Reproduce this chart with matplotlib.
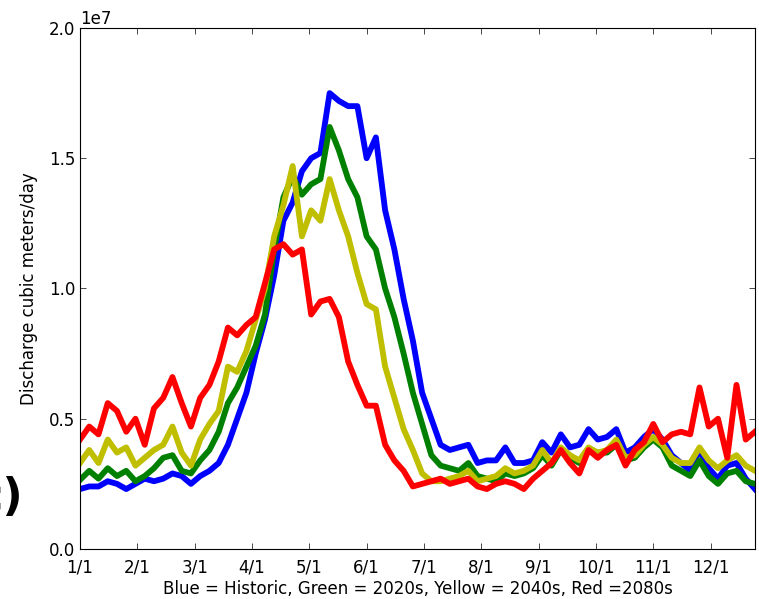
import matplotlib
matplotlib.use("Agg")
import matplotlib.pyplot as plt

# day of year (every 5 days) and discharge in millions of m3/day
days = list(range(0, 366, 5))

historic = [2.3, 2.4, 2.4, 2.6, 2.5, 2.3, 2.5, 2.7, 2.6, 2.7,
            2.9, 2.8, 2.5, 2.8, 3.0, 3.3, 4.0, 5.0, 6.0, 7.5,
            8.8, 10.5, 12.6, 13.3, 14.5, 15.0, 15.2, 17.5, 17.2, 17.0,
            17.0, 15.0, 15.8, 13.0, 11.5, 9.6, 8.0, 6.0, 5.0, 4.0,
            3.8, 3.9, 4.0, 3.3, 3.4, 3.4, 3.9, 3.3, 3.3, 3.4,
            4.1, 3.7, 4.4, 3.9, 4.0, 4.6, 4.2, 4.3, 4.6, 3.7,
            3.9, 4.3, 4.6, 4.2, 3.6, 3.3, 3.0, 3.8, 3.1, 2.7,
            3.2, 3.3, 2.7, 2.3]

green_2020s = [2.65, 3.0, 2.7, 3.1, 2.8, 3.0, 2.6, 2.8, 3.1, 3.5,
               3.6, 3.0, 2.9, 3.4, 3.8, 4.5, 5.6, 6.2, 7.0, 7.8,
               9.0, 11.5, 13.5, 14.3, 13.6, 14.0, 14.2, 16.2, 15.3, 14.2,
               13.5, 12.0, 11.5, 10.0, 8.9, 7.5, 6.0, 4.8, 3.6, 3.2,
               3.1, 3.0, 3.3, 2.8, 2.7, 2.6, 2.9, 2.8, 2.9, 3.1,
               3.6, 3.2, 3.8, 3.5, 3.3, 3.8, 3.7, 3.7, 4.0, 3.4,
               3.5, 3.9, 4.2, 3.9, 3.2, 3.0, 2.8, 3.4, 2.8, 2.5,
               2.9, 3.0, 2.6, 2.5]

yellow_2040s = [3.3, 3.8, 3.3, 4.2, 3.7, 3.9, 3.2, 3.5, 3.8, 4.0,
                4.7, 3.7, 3.2, 4.2, 4.8, 5.3, 7.0, 6.8, 7.6, 8.8,
                10.0, 12.0, 13.2, 14.7, 12.0, 13.0, 12.6, 14.2, 13.0, 12.0,
                10.6, 9.4, 9.2, 7.0, 5.8, 4.6, 3.8, 2.9, 2.6, 2.6,
                2.7, 2.8, 3.0, 2.6, 2.7, 2.8, 3.1, 2.9, 3.0, 3.2,
                3.8, 3.3, 3.9, 3.6, 3.4, 3.9, 3.7, 3.8, 4.2, 3.5,
                3.6, 4.0, 4.3, 4.0, 3.5, 3.3, 3.3, 3.9, 3.4, 3.1,
                3.4, 3.6, 3.2, 3.0]

red_2080s = [4.2, 4.7, 4.4, 5.6, 5.3, 4.5, 5.0, 4.0, 5.4, 5.8,
             6.6, 5.6, 4.7, 5.8, 6.3, 7.2, 8.5, 8.2, 8.6, 8.9,
             10.2, 11.5, 11.7, 11.3, 11.5, 9.0, 9.5, 9.6, 8.9, 7.2,
             6.3, 5.5, 5.5, 4.0, 3.4, 3.0, 2.4, 2.5, 2.6, 2.7,
             2.5, 2.6, 2.7, 2.4, 2.3, 2.5, 2.6, 2.5, 2.3, 2.7,
             3.0, 3.3, 3.8, 3.3, 2.9, 3.8, 3.5, 3.8, 4.0, 3.2,
             3.8, 4.1, 4.8, 4.1, 4.4, 4.5, 4.4, 6.2, 4.7, 5.0,
             3.5, 6.3, 4.2, 4.5]

month_ticks = list(range(0, 365, 31))
month_labels = ["1/1", "2/1", "3/1", "4/1", "5/1", "6/1",
                "7/1", "8/1", "9/1", "10/1", "11/1", "12/1"]

# old-style look: inward ticks on every side
plt.rcParams["font.size"] = 12
plt.rcParams["xtick.direction"] = "in"
plt.rcParams["ytick.direction"] = "in"
plt.rcParams["xtick.top"] = True
plt.rcParams["ytick.right"] = True
plt.rcParams["xtick.major.size"] = 4
plt.rcParams["ytick.major.size"] = 4
plt.rcParams["xtick.major.width"] = 0.5
plt.rcParams["ytick.major.width"] = 0.5
plt.rcParams["xtick.major.pad"] = 6.5

fig = plt.figure(figsize=(7.59, 5.99), dpi=100)
ax = fig.add_axes([0.1054, 0.0835, 0.8893, 0.8698])

series = [(historic, "b"), (green_2020s, "g"),
          (yellow_2040s, (0.75, 0.75, 0)), (red_2080s, "r")]
for values, color in series:
    ax.plot(days, [v * 1e6 for v in values], color=color, linewidth=4.2)

ax.set_xlim(0, 365)
ax.set_ylim(0, 2.0e7)
ax.set_xticks(month_ticks)
ax.set_xticklabels(month_labels)
ax.set_yticks([0, 0.5e7, 1.0e7, 1.5e7, 2.0e7])
ax.ticklabel_format(axis="y", style="sci", scilimits=(0, 0))
ax.set_ylabel("Discharge cubic meters/day", labelpad=8)
ax.set_xlabel("Blue = Historic, Green = 2020s, Yellow = 2040s, Red =2080s",
              labelpad=3)

# panel letter, mostly cut off at the left edge
fig.text(0.03, 0.169, "c)", fontsize=32, fontweight="bold",
         ha="right", va="center")

fig.savefig("out.png", dpi=100)
